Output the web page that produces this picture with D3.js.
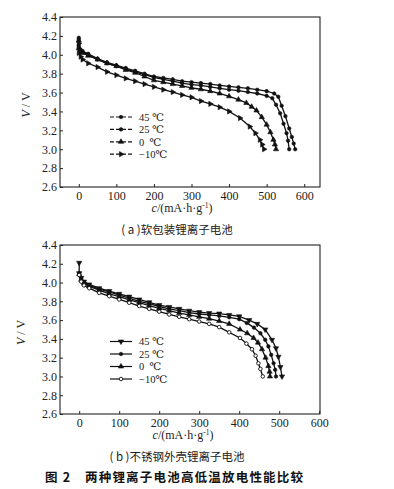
<!DOCTYPE html>
<html lang="zh">
<head>
<meta charset="UTF-8">
<title>两种锂离子电池高低温放电性能比较</title>
<script src="https://d3js.org/d3.v7.min.js"></script>
<style>
  body { margin: 0; background: #fff; }
  svg { display: block; }
</style>
</head>
<body>
<svg width="394" height="489"></svg>
<script>
const SERIF = '"Liberation Serif", "DejaVu Serif", serif';
const CJK = '"Noto Sans CJK SC", sans-serif';

// series labels (legend order)
const seriesNames = ['45 ℃', '25 ℃', '0\u2002℃', '−10℃'];

// (a) pouch cell: [capacity mA·h/g, voltage V]
const a45 = [[0,4.18],[0,4.10],[3,4.06],[10,4.04],[25,4.01],[50,3.96],[75,3.92],[100,3.89],[125,3.86],[150,3.83],[175,3.80],[200,3.77],[225,3.755],[250,3.74],[275,3.72],[300,3.71],[325,3.70],[350,3.69],[375,3.675],[400,3.665],[425,3.655],[450,3.645],[475,3.63],[500,3.615],[520,3.59],[531,3.556],[540,3.46],[550,3.35],[560,3.22],[567,3.13],[572,3.06],[576,3.0]];
const a25 = [[0,4.16],[0,4.08],[5,4.05],[10,4.03],[25,4.00],[50,3.95],[75,3.91],[100,3.88],[125,3.85],[150,3.82],[175,3.79],[200,3.76],[225,3.74],[250,3.72],[275,3.70],[300,3.685],[325,3.675],[350,3.66],[375,3.645],[400,3.63],[425,3.62],[450,3.605],[475,3.59],[500,3.565],[515,3.54],[525,3.47],[536,3.38],[545,3.27],[553,3.17],[557,3.09],[560,3.0]];
const a0 = [[0,4.15],[0,4.07],[5,4.04],[10,4.02],[25,3.99],[50,3.95],[75,3.91],[100,3.88],[125,3.84],[150,3.81],[175,3.77],[200,3.73],[225,3.71],[250,3.69],[275,3.67],[300,3.65],[325,3.635],[350,3.615],[375,3.59],[400,3.56],[425,3.525],[446,3.49],[460,3.45],[473,3.41],[487,3.34],[500,3.26],[510,3.18],[518,3.10],[522,3.05],[525,3.0]];
const aM10 = [[0,4.12],[0,4.02],[5,3.98],[10,3.95],[25,3.91],[50,3.87],[75,3.82],[100,3.785],[125,3.75],[150,3.72],[175,3.69],[200,3.66],[225,3.63],[250,3.605],[275,3.575],[300,3.55],[325,3.51],[350,3.48],[375,3.445],[400,3.40],[429,3.33],[455,3.24],[470,3.17],[482,3.10],[488,3.05],[493,3.0]];

// (b) stainless steel case cell
const b45 = [[0,4.21],[0,4.10],[5,4.05],[12,4.01],[25,3.98],[50,3.94],[75,3.91],[100,3.88],[125,3.85],[150,3.82],[175,3.79],[200,3.76],[225,3.74],[250,3.72],[275,3.70],[300,3.685],[325,3.675],[350,3.67],[375,3.655],[400,3.64],[425,3.60],[445,3.56],[465,3.50],[482,3.39],[492,3.30],[498,3.21],[503,3.10],[507,3.0]];
const b25 = [[0,4.10],[5,4.04],[12,4.00],[25,3.97],[50,3.93],[75,3.90],[100,3.865],[125,3.835],[150,3.80],[175,3.775],[200,3.745],[225,3.72],[250,3.70],[275,3.68],[300,3.665],[325,3.655],[350,3.645],[375,3.63],[400,3.61],[419,3.57],[437,3.52],[453,3.46],[465,3.39],[473,3.32],[480,3.23],[486,3.14],[490,3.07],[492,3.0]];
const b0 = [[0,4.09],[5,4.03],[12,3.99],[25,3.96],[50,3.92],[75,3.88],[100,3.85],[125,3.815],[150,3.785],[175,3.755],[200,3.725],[225,3.70],[250,3.675],[275,3.655],[300,3.635],[325,3.615],[350,3.59],[375,3.56],[402,3.50],[420,3.46],[436,3.41],[447,3.36],[457,3.29],[466,3.20],[473,3.11],[476,3.05],[477,3.0]];
const bM10 = [[0,4.08],[5,4.01],[12,3.97],[25,3.94],[50,3.89],[75,3.855],[100,3.82],[125,3.785],[150,3.75],[175,3.72],[200,3.69],[225,3.66],[250,3.635],[275,3.61],[300,3.585],[325,3.56],[350,3.525],[375,3.47],[402,3.41],[418,3.35],[432,3.29],[441,3.22],[448,3.14],[453,3.08],[459,3.0]];

const xTicks = [0, 100, 200, 300, 400, 500, 600];
const yTicks = [2.6, 2.8, 3.0, 3.2, 3.4, 3.6, 3.8, 4.0, 4.2, 4.4];

const svg = d3.select('svg');

// marker: symbol type, rotation, filled?
const mk = {
  dot:   {type: d3.symbolCircle,   rot: 0,   fill: true,  size: 10},
  tri:   {type: d3.symbolTriangle, rot: 0,   fill: true,  size: 12},
  triR:  {type: d3.symbolTriangle, rot: 90,  fill: true,  size: 12},
  triD:  {type: d3.symbolTriangle, rot: 180, fill: true,  size: 12},
  ring:  {type: d3.symbolCircle,   rot: 0,   fill: false, size: 10}
};

function drawMarker(g, m, x, y) {
  g.append('path')
    .attr('d', d3.symbol().type(m.type).size(m.size)())
    .attr('transform', `translate(${x},${y}) rotate(${m.rot})`)
    .attr('fill', m.fill ? '#111' : '#fff')
    .attr('stroke', '#111')
    .attr('stroke-width', m.fill ? 0.6 : 0.9);
}

function panel(p) {
  const g = svg.append('g');
  const x = d3.scaleLinear().domain(p.xDomain).range([p.left, p.right]);
  const y = d3.scaleLinear().domain([2.6, 4.4]).range([p.bottom, p.top]);

  // box
  g.append('rect')
    .attr('x', p.left).attr('y', p.top)
    .attr('width', p.right - p.left).attr('height', p.bottom - p.top)
    .attr('fill', 'none').attr('stroke', '#222').attr('stroke-width', 1.1);

  const yAxis = d3.axisLeft(y).tickValues(yTicks).tickFormat(d3.format('.1f'))
    .tickSizeInner(-3).tickSizeOuter(0).tickPadding(3);
  const ya = g.append('g').attr('transform', `translate(${p.left},0)`).call(yAxis);
  const xAxis = d3.axisBottom(x).tickValues(xTicks)
    .tickSizeInner(-3).tickSizeOuter(0).tickPadding(4);
  const xa = g.append('g').attr('transform', `translate(0,${p.bottom})`).call(xAxis);
  [ya, xa].forEach(a => {
    a.attr('font-family', SERIF).attr('font-size', 12);
    a.select('.domain').remove();
    a.selectAll('line').attr('stroke', '#222');
    a.selectAll('text').attr('fill', '#222');
  });

  // axis titles
  const yl = g.append('text').attr('font-family', SERIF).attr('font-size', 12).attr('fill', '#222')
    .attr('text-anchor', 'middle')
    .attr('transform', `translate(${p.yLabelX},${(p.top + p.bottom) / 2 + 3}) rotate(-90)`);
  yl.append('tspan').attr('font-style', 'italic').text('V');
  yl.append('tspan').text(' / V');

  const xl = g.append('text').attr('font-family', SERIF).attr('font-size', 12).attr('fill', '#222')
    .attr('text-anchor', 'middle').attr('x', p.xLabelX).attr('y', p.bottom + 25);
  xl.append('tspan').attr('font-style', 'italic').text('c');
  xl.append('tspan').text('/(mA·h·g');
  xl.append('tspan').attr('font-size', 7.5).attr('dy', -4).text('-1');
  xl.append('tspan').attr('dy', 4).text(')');

  // curves
  const line = d3.line().x(d => x(d[0])).y(d => y(d[1]));
  p.series.forEach((s, i) => {
    g.append('path').datum(s).attr('d', line)
      .attr('fill', 'none').attr('stroke', '#111').attr('stroke-width', 1.3);
    s.forEach(d => drawMarker(g, p.markers[i], x(d[0]), y(d[1])));
  });

  // legend
  seriesNames.forEach((name, i) => {
    const ly = p.legendY + i * p.legendStep;
    g.append('line').attr('x1', 110).attr('x2', 132).attr('y1', ly).attr('y2', ly)
      .attr('stroke', '#111').attr('stroke-width', 1.2).attr('stroke-dasharray', p.legendDash);
    drawMarker(g, p.markers[i], 121, ly);
    g.append('text').attr('font-family', SERIF).attr('font-size', 10.5).attr('fill', '#222')
      .attr('x', 139).attr('y', ly + 3.8).text(name);
  });

  g.append('text').attr('font-family', CJK).attr('font-size', 11.5).attr('fill', '#222')
    .attr('text-anchor', 'middle').attr('x', 177).attr('y', p.captionY)
    .text(p.caption);
}

panel({
  left: 60, right: 320, top: 17, bottom: 187,
  xDomain: [-50, 642],
  series: [a45, a25, a0, aM10],
  markers: [mk.dot, mk.dot, mk.tri, mk.triR],
  legendY: 117, legendStep: 12.4, legendDash: '4,2,10,2,4',
  yLabelX: 30, xLabelX: 182, captionY: 234,
  caption: '( a )软包装锂离子电池'
});

panel({
  left: 60, right: 320, top: 245, bottom: 414,
  xDomain: [-48, 602],
  series: [b45, b25, b0, bM10],
  markers: [mk.triD, mk.dot, mk.tri, mk.ring],
  legendY: 341.5, legendStep: 12.5, legendDash: null,
  yLabelX: 25, xLabelX: 183, captionY: 461,
  caption: '( b )不锈钢外壳锂离子电池'
});

svg.append('text').attr('font-family', CJK).attr('font-size', 12.5).attr('font-weight', 'bold')
  .attr('fill', '#111').attr('x', 45).attr('y', 482).attr('letter-spacing', 1.2)
  .text('图 2　两种锂离子电池高低温放电性能比较');
</script>
</body>
</html>
